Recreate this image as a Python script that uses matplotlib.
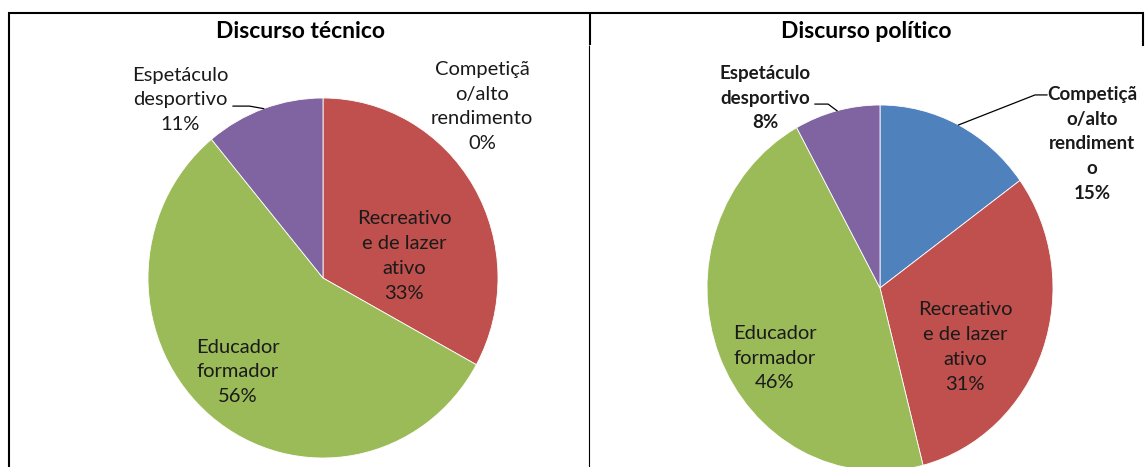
import matplotlib
matplotlib.use("Agg")
import matplotlib.pyplot as plt
from matplotlib.lines import Line2D
import numpy as np

plt.rcParams['font.family'] = ['Lato', 'DejaVu Sans']

# Categories (clockwise from 12 o'clock) and shares in percent
categories = ["Competição/alto rendimento", "Recreativo e de lazer ativo",
              "Educador formador", "Espetáculo desportivo"]
tecnico = [0, 33, 56, 11]
politico = [15, 31, 46, 8]

titles = ["Discurso técnico", "Discurso político"]

# Wrapped label text as laid out in each chart
labels_tecnico = ["Competiçã\no/alto\nrendimento", "Recreativo\ne de lazer\nativo",
                  "Educador\nformador", "Espetáculo\ndesportivo"]
labels_politico = ["Competiçã\no/alto\nrendiment\no", "Recreativo\ne de lazer\nativo",
                   "Educador\nformador", "Espetáculo\ndesportivo"]

colors = ["#4F81BD", "#C0504D", "#9BBB59", "#8064A2"]

W, H = 1145, 467
fig = plt.figure(figsize=(W / 100, H / 100), dpi=100)


def fx(x):
    return x / W


def fy(y):
    return 1 - y / H


def border(x0, y0, x1, y1, lw=1.5):
    fig.add_artist(Line2D([fx(x0), fx(x1)], [fy(y0), fy(y1)],
                          color="black", linewidth=lw, solid_capstyle="butt"))


# table-like frame around the two charts
border(8, 13, 1144, 13)
border(9, 12, 9, 467)
border(590, 12, 590, 45)
border(589, 45, 589, 467, lw=0.8)
border(1143, 12, 1143, 46)

fig.text(fx(300), fy(31), titles[0], ha="center", va="center",
         fontsize=16.5, fontweight="bold")
fig.text(fx(866), fy(31), titles[1], ha="center", va="center",
         fontsize=16.5, fontweight="bold")


def draw_pie(rect, values, labels, label_pos, bold_outside, leaders):
    ax = fig.add_axes(rect)
    wedges, _ = ax.pie(values, colors=colors, startangle=90, counterclock=False,
                       wedgeprops=dict(edgecolor="white", linewidth=0.6))
    ax.set_aspect("auto")
    ax.set_xlim(-1, 1)
    ax.set_ylim(-1, 1)
    ax.axis("off")
    for i, (lab, v) in enumerate(zip(labels, values)):
        x, y = label_pos[i]
        bold = i in bold_outside
        ax.text(x, y, f"{lab}\n{v}%", ha="center", va="center",
                fontsize=13.5 if bold else 14.5,
                fontweight="bold" if bold else "normal",
                linespacing=1.56, color="#1a1a1a", clip_on=False)
    for i, pts in leaders.items():
        w = wedges[i]
        mid = np.deg2rad((w.theta1 + w.theta2) / 2)
        px, py = np.cos(mid), np.sin(mid)
        xs = [p[0] for p in pts] + [px]
        ys = [p[1] for p in pts] + [py]
        ax.plot(xs, ys, color="black", linewidth=0.9, clip_on=False)
    return ax


# left chart: centre (323, 278) px, radii 175 x 180 px
draw_pie([fx(148), fy(458), 350 / W, 360 / H], tecnico, labels_tecnico,
         [(0.909, 0.953), (0.463, 0.122), (-0.486, -0.522), (-0.817, 0.989)],
         bold_outside=set(),
         leaders={3: [(-0.514, 0.955), (-0.42, 0.955)]})

# right chart: centre (880, 288) px, radii 173 x 183 px
draw_pie([fx(707), fy(471), 346 / W, 366 / H], politico, labels_politico,
         [(1.225, 0.787), (0.491, -0.322), (-0.607, -0.383), (-0.665, 1.038)],
         bold_outside={0, 3},
         leaders={3: [(-0.376, 1.005), (-0.30, 1.005)],
                  0: [(0.965, 1.055), (0.896, 1.055)]})

fig.savefig("out.png", dpi=100)
